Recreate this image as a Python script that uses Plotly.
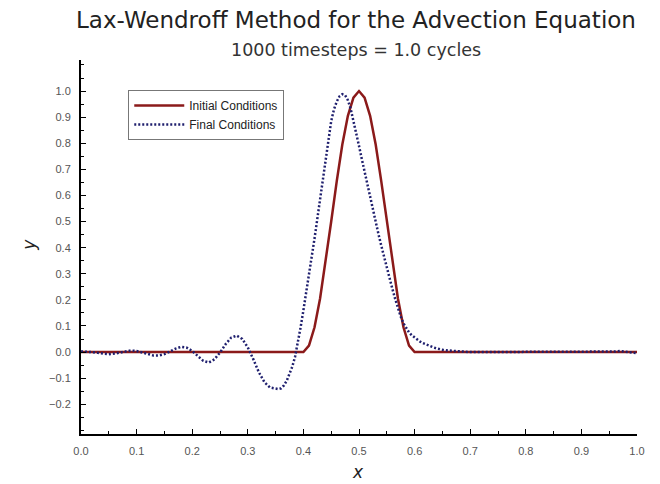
import plotly.graph_objects as go

# Initial conditions (solid red)
x_initial = [0.00, 0.40, 0.41, 0.42, 0.43, 0.44, 0.45, 0.46, 0.47, 0.48, 0.49, 0.50,
             0.51, 0.52, 0.53, 0.54, 0.55, 0.56, 0.57, 0.58, 0.59, 0.60, 1.00]
y_initial = [0.0, 0.0, 0.025, 0.095, 0.205, 0.345, 0.50, 0.655, 0.795, 0.905, 0.975, 1.0,
             0.975, 0.905, 0.795, 0.655, 0.50, 0.345, 0.205, 0.095, 0.025, 0.0, 0.0]

# Final conditions (dotted navy)
x_final = [0.00, 0.01, 0.02, 0.03, 0.04, 0.05, 0.06, 0.07, 0.08, 0.09,
           0.10, 0.11, 0.12, 0.13, 0.14, 0.15, 0.16, 0.17, 0.18, 0.19,
           0.20, 0.21, 0.22, 0.23, 0.24, 0.25, 0.26, 0.27, 0.28, 0.29,
           0.30, 0.31, 0.32, 0.33, 0.34,
           0.350, 0.355, 0.360, 0.365, 0.370, 0.375, 0.380, 0.385, 0.390, 0.395,
           0.400, 0.405, 0.410, 0.415, 0.420, 0.425, 0.430, 0.435, 0.440, 0.445,
           0.450, 0.455, 0.460, 0.465, 0.470, 0.475, 0.480, 0.485, 0.490, 0.495,
           0.500, 0.505, 0.510, 0.515, 0.520, 0.525, 0.530, 0.535, 0.540, 0.545,
           0.550, 0.555, 0.560, 0.565, 0.570, 0.575, 0.580, 0.585, 0.590, 0.595,
           0.600, 0.605, 0.610, 0.615, 0.620, 0.625, 0.630, 0.635, 0.640, 0.645,
           0.650, 0.66, 0.67, 0.68, 0.69,
           0.70, 0.71, 0.72, 0.73, 0.74, 0.75, 0.76, 0.77, 0.78, 0.79,
           0.80, 0.81, 0.82, 0.83, 0.84, 0.85, 0.86, 0.87, 0.88, 0.89,
           0.90, 0.91, 0.92, 0.93, 0.94, 0.95, 0.96, 0.97, 0.98, 0.99, 1.00]
y_final = [0.002, 0.002, 0.000, -0.003, -0.006, -0.008, -0.006, -0.002, 0.003, 0.006,
           0.004, -0.002, -0.009, -0.013, -0.013, -0.008, 0.002, 0.013, 0.020, 0.017,
           0.004, -0.016, -0.034, -0.040, -0.028, -0.002, 0.030, 0.055, 0.063, 0.050,
           0.018, -0.028, -0.078, -0.116, -0.136,
           -0.140, -0.142, -0.139, -0.128, -0.110, -0.086, -0.056, -0.018, 0.035, 0.095,
           0.160, 0.225, 0.295, 0.365, 0.435, 0.510, 0.585, 0.660, 0.745, 0.825,
           0.885, 0.930, 0.960, 0.980, 0.988, 0.984, 0.965, 0.932, 0.888, 0.840,
           0.790, 0.740, 0.690, 0.640, 0.592, 0.545, 0.498, 0.452, 0.408, 0.364,
           0.322, 0.282, 0.242, 0.204, 0.168, 0.136, 0.110, 0.090, 0.075, 0.064,
           0.055, 0.047, 0.040, 0.034, 0.029, 0.024, 0.020, 0.017, 0.014, 0.011,
           0.009, 0.006, 0.004, 0.002, 0.001,
           0.000, 0.000, 0.000, 0.000, 0.000, 0.000, 0.000, 0.000, 0.000, 0.000,
           0.000, 0.000, 0.000, 0.000, 0.000, 0.000, 0.000, 0.000, 0.000, 0.000,
           0.000, 0.000, 0.000, 0.000, 0.000, 0.000, 0.002, 0.004, 0.001, -0.003, -0.004]

y_tickvals = [-0.2, -0.1, 0.0, 0.1, 0.2, 0.3, 0.4, 0.5, 0.6, 0.7, 0.8, 0.9, 1.0]

title_text = "Lax-Wendroff Method for the Advection Equation"
subtitle_text = "1000 timesteps = 1.0 cycles"

fig = go.Figure()
fig.add_trace(go.Scatter(x=x_initial, y=y_initial, mode="lines", name="Initial Conditions",
                         line=dict(color="#8b1a1a", width=2.5)))
fig.add_trace(go.Scatter(x=x_final, y=y_final, mode="lines", name="Final Conditions",
                         line=dict(color="#1f1f6e", width=2.5, dash="2px,2px")))

axis_common = dict(showline=True, linecolor="black", linewidth=2, showgrid=False,
                   zeroline=False, ticks="inside", ticklen=5, tickwidth=1, tickcolor="black",
                   tickformat=".1f", ticklabelstandoff=6,
                   tickfont=dict(family="Liberation Sans, Arial", size=11, color="#555"),
                   minor=dict(ticks="inside", ticklen=3, tickwidth=1, tickcolor="black", dtick=0.05))

fig.update_xaxes(range=[0, 1], tick0=0, dtick=0.1, **axis_common)
fig.update_yaxes(range=[-0.314, 1.119], tickvals=y_tickvals, **axis_common)

fig.update_layout(
    width=652, height=476,
    margin=dict(l=73, r=23, t=52, b=50),
    plot_bgcolor="white", paper_bgcolor="white",
    showlegend=True,
    legend=dict(x=0.085, y=0.92, xanchor="left", yanchor="top",
                bgcolor="white", bordercolor="#777", borderwidth=1,
                font=dict(family="Liberation Sans, Arial", size=12, color="#222"),
                tracegroupgap=0, itemwidth=50),
    annotations=[
        dict(text=title_text, xref="paper", yref="paper", x=0.495, y=1.107,
             xanchor="center", yanchor="middle", showarrow=False,
             font=dict(family="DejaVu Sans", size=23, color="#222")),
        dict(text=subtitle_text, xref="paper", yref="paper", x=0.495, y=1.027,
             xanchor="center", yanchor="middle", showarrow=False,
             font=dict(family="DejaVu Sans", size=17.5, color="#333")),
        dict(text="<i>x</i>", xref="paper", yref="paper", x=0.498, y=-0.101,
             xanchor="center", yanchor="middle", showarrow=False,
             font=dict(family="DejaVu Sans", size=17, color="#222")),
        dict(text="<i>y</i>", xref="paper", yref="paper", x=-0.094, y=0.505,
             xanchor="center", yanchor="middle", showarrow=False, textangle=-90,
             font=dict(family="DejaVu Sans", size=17, color="#222")),
    ],
)

fig.write_html("out.html")
